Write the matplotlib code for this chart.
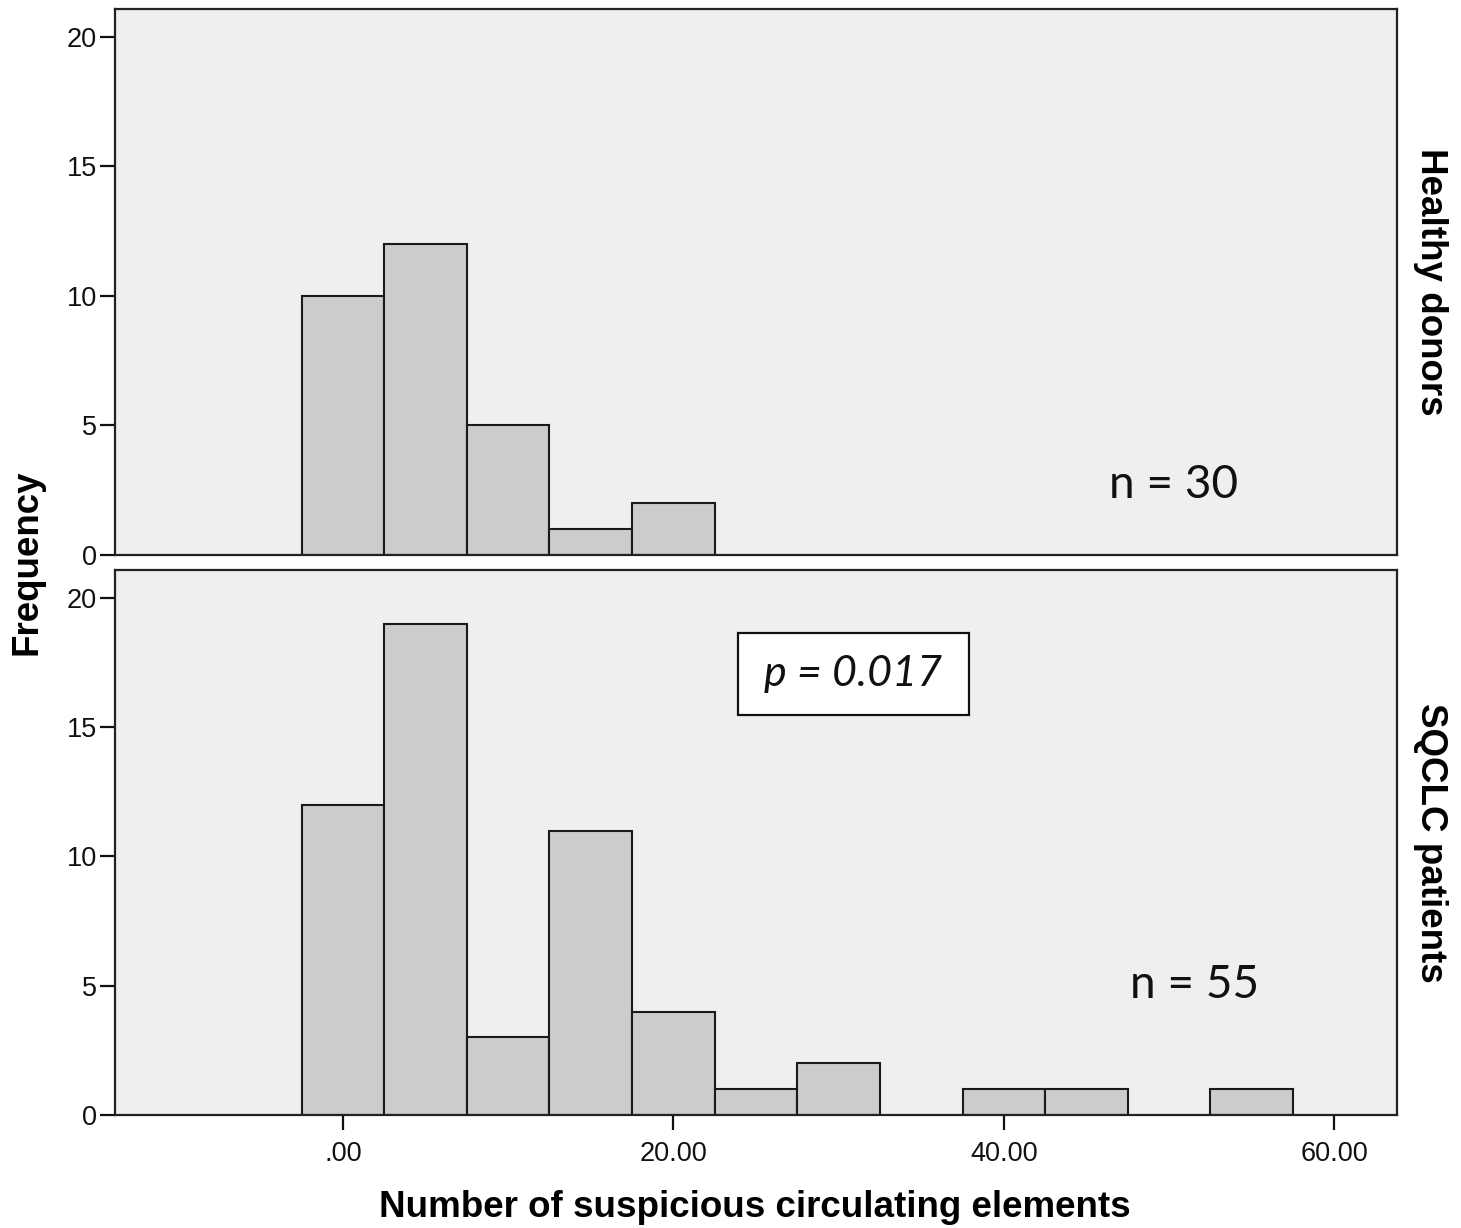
import matplotlib
matplotlib.use('Agg')
import matplotlib.pyplot as plt
from matplotlib.patches import Rectangle

plt.rcParams['font.family'] = ['Liberation Sans', 'DejaVu Sans']

# bin centres (width 5) and counts
bin_centers = [0, 5, 10, 15, 20, 25, 30, 35, 40, 45, 50, 55]
healthy_counts = [10, 12, 5, 1, 2, 0, 0, 0, 0, 0, 0, 0]
sqclc_counts = [12, 19, 3, 11, 4, 1, 2, 0, 1, 1, 0, 1]
panel_names = ['Healthy donors', 'SQCLC patients']
n_labels = ['n = 30', 'n = 55']
x_ticks = [0, 20, 40, 60]
x_tick_labels = ['.00', '20.00', '40.00', '60.00']
y_ticks = [0, 5, 10, 15, 20]
p_text = 'p = 0.017'

BG = '#efefef'
BAR = '#cccccc'
EDGE = '#1a1a1a'

fig = plt.figure(figsize=(14.61, 12.28), dpi=100)
ax_top = fig.add_axes([0.0787, 0.5480, 0.8775, 0.4446])
ax_bot = fig.add_axes([0.0787, 0.0920, 0.8775, 0.4438])

for ax, counts, name in zip([ax_top, ax_bot], [healthy_counts, sqclc_counts], panel_names):
    ax.set_facecolor(BG)
    xs = [c for c, v in zip(bin_centers, counts) if v > 0]
    hs = [v for v in counts if v > 0]
    ax.bar(xs, hs, width=5, color=BAR, edgecolor=EDGE, linewidth=1.5, zorder=2)
    ax.set_xlim(-13.8, 63.8)
    ax.set_ylim(0, 21.07)
    ax.set_yticks(y_ticks)
    ax.tick_params(axis='y', length=11, width=1.6, labelsize=19.5, pad=2, colors='#111111')
    for sp in ax.spines.values():
        sp.set_linewidth(1.6)
        sp.set_color('#222222')
    ax.text(1.026, 0.5, name, transform=ax.transAxes, rotation=-90,
            ha='center', va='center', fontsize=26.5, fontweight='bold')

ax_top.set_xticks([])
ax_bot.set_xticks(x_ticks)
ax_bot.set_xticklabels(x_tick_labels)
ax_bot.tick_params(axis='x', length=11, width=1.6, labelsize=19.5, pad=8, colors='#111111')

# sample size labels
ax_top.text(0.826, 0.128, n_labels[0], transform=ax_top.transAxes, ha='center', va='center',
            fontsize=33, family=['Lato', 'Open Sans', 'DejaVu Sans'], color='#111111')
ax_bot.text(0.842, 0.2385, n_labels[1], transform=ax_bot.transAxes, ha='center', va='center',
            fontsize=33, family=['Lato', 'Open Sans', 'DejaVu Sans'], color='#111111')

# p-value box
ax_bot.add_patch(Rectangle((0.486, 0.734), 0.180, 0.1505, transform=ax_bot.transAxes,
                           facecolor='white', edgecolor='#111111', linewidth=1.6, zorder=3))
ax_bot.text(0.5757, 0.809, p_text, transform=ax_bot.transAxes, ha='center', va='center',
            fontsize=31, style='italic', family=['Lato', 'Open Sans', 'DejaVu Sans'],
            color='#111111', zorder=4)

fig.text(0.0185, 0.5423, 'Frequency', rotation=90, ha='center', va='center',
         fontsize=26.5, fontweight='bold')
fig.text(0.5168, 0.017, 'Number of suspicious circulating elements', ha='center', va='center',
         fontsize=26.5, fontweight='bold')

fig.savefig('out.png', dpi=100, facecolor='white')
